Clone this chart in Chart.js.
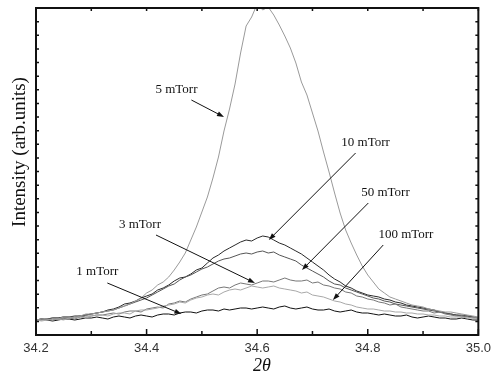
<!DOCTYPE html>
<html>
<head>
<meta charset="utf-8">
<script src="https://cdn.jsdelivr.net/npm/chart.js@4"></script>
<style>
  html, body { margin: 0; padding: 0; background: #fff; }
  #wrap { width: 497px; height: 379px; }
</style>
</head>
<body>
<div id="wrap"><canvas id="xrd"></canvas></div>
<script>
// ====== DATA (arbitrary intensity units) ======
const angles = [34.20, 34.21, 34.22, 34.23, 34.24, 34.25, 34.26, 34.27, 34.28, 34.29,
                34.30, 34.31, 34.32, 34.33, 34.34, 34.35, 34.36, 34.37, 34.38, 34.39,
                34.40, 34.41, 34.42, 34.43, 34.44, 34.45, 34.46, 34.47, 34.48, 34.49,
                34.50, 34.51, 34.52, 34.53, 34.54, 34.55, 34.56, 34.57, 34.58, 34.59,
                34.60, 34.61, 34.62, 34.63, 34.64, 34.65, 34.66, 34.67, 34.68, 34.69,
                34.70, 34.71, 34.72, 34.73, 34.74, 34.75, 34.76, 34.77, 34.78, 34.79,
                34.80, 34.81, 34.82, 34.83, 34.84, 34.85, 34.86, 34.87, 34.88, 34.89,
                34.90, 34.91, 34.92, 34.93, 34.94, 34.95, 34.96, 34.97, 34.98, 34.99, 35.00];

const mTorr1 = [15, 16, 15, 14, 15, 16, 16, 15, 16, 17,
                17, 18, 17, 16, 18, 19, 18, 17, 19, 20,
                19, 18, 20, 21, 21, 20, 22, 23, 23, 22,
                24, 25, 25, 24, 26, 25, 26, 27, 27, 26,
                27, 28, 27, 26, 28, 29, 27, 26, 27, 28,
                26, 25, 25, 26, 24, 23, 24, 25, 23, 22,
                22, 21, 20, 21, 20, 19, 19, 20, 18, 17,
                18, 19, 18, 17, 17, 16, 16, 17, 16, 15, 15];

const mTorr3 = [15, 16, 15, 15, 16, 17, 17, 16, 18, 19,
                19, 20, 20, 21, 22, 21, 23, 24, 24, 23,
                26, 27, 28, 27, 31, 32, 34, 33, 36, 38,
                40, 41, 44, 47, 48, 47, 50, 52, 51, 50,
                52, 54, 54, 53, 55, 57, 55, 54, 54, 55,
                52, 53, 50, 49, 47, 46, 43, 42, 39, 38,
                36, 35, 33, 32, 30, 31, 28, 27, 26, 25,
                24, 24, 22, 23, 21, 20, 19, 19, 18, 17, 17];

const mTorr5 = [15, 16, 16, 15, 16, 18, 18, 17, 19, 21,
                21, 22, 23, 24, 25, 27, 29, 31, 34, 37,
                42, 45, 50, 53, 58, 65, 73, 82, 95, 108,
                123, 138, 157, 178, 204, 226, 251, 282, 309, 318,
                331, 325, 328, 320, 310, 299, 287, 272, 253, 240,
                222, 204, 183, 163, 142, 122, 105, 92, 80, 69,
                60, 53, 46, 42, 38, 36, 34, 32, 30, 29,
                28, 26, 25, 24, 23, 23, 22, 21, 20, 19, 18];

const mTorr10 = [15, 16, 16, 17, 17, 18, 18, 19, 19, 20,
                 21, 22, 23, 25, 26, 28, 31, 32, 34, 37,
                 39, 41, 45, 47, 50, 54, 57, 58, 61, 65,
                 67, 72, 77, 80, 84, 87, 90, 93, 95, 94,
                 97, 99, 98, 95, 92, 90, 87, 84, 81, 77,
                 73, 69, 65, 60, 56, 53, 49, 47, 44, 42,
                 40, 39, 38, 36, 35, 33, 32, 30, 29, 28,
                 27, 26, 25, 23, 22, 21, 20, 19, 19, 18, 17];

const mTorr50 = [15, 15, 16, 17, 17, 18, 18, 18, 19, 20,
                 21, 22, 23, 24, 25, 27, 29, 31, 33, 35,
                 37, 40, 43, 46, 49, 51, 55, 58, 60, 63,
                 66, 68, 71, 74, 76, 77, 79, 81, 82, 81,
                 83, 84, 82, 83, 80, 78, 76, 74, 70, 67,
                 64, 61, 58, 54, 51, 50, 47, 45, 43, 41,
                 39, 37, 36, 34, 33, 31, 30, 29, 28, 27,
                 26, 25, 24, 23, 22, 21, 20, 20, 19, 18, 17];

const mTorr100 = [15, 14, 15, 16, 16, 15, 17, 18, 18, 17,
                  19, 20, 20, 19, 21, 22, 22, 21, 24, 25,
                  25, 26, 27, 29, 30, 31, 33, 32, 35, 37,
                  38, 40, 41, 40, 43, 45, 46, 45, 47, 49,
                  48, 47, 48, 49, 47, 46, 45, 44, 42, 43,
                  40, 39, 38, 36, 34, 33, 31, 30, 28, 27,
                  26, 26, 25, 24, 24, 23, 23, 22, 22, 21,
                  21, 20, 20, 19, 19, 18, 18, 18, 17, 17, 17];

const xTicks = [34.2, 34.4, 34.6, 34.8, 35.0];

// label text, label centre, arrow tail, arrow tip (data coordinates)
const notes = [
  { text: "5 mTorr",   at: [34.454, 245], from: [34.481, 235], to: [34.540, 218] },
  { text: "10 mTorr",  at: [34.796, 192], from: [34.778, 182], to: [34.621, 95] },
  { text: "50 mTorr",  at: [34.832, 142], from: [34.801, 132], to: [34.681, 65] },
  { text: "100 mTorr", at: [34.869, 100], from: [34.828, 90],  to: [34.737, 35] },
  { text: "3 mTorr",   at: [34.388, 110], from: [34.417, 100], to: [34.596, 52] },
  { text: "1 mTorr",   at: [34.311, 63],  from: [34.329, 52],  to: [34.463, 21] }
];

function pts(values) {
  return values.map((v, i) => ({ x: angles[i], y: v }));
}

// ====== FRAME, INWARD TICKS, TITLES, ARROWS ======
const decor = {
  id: "decor",
  afterDraw(chart) {
    const { ctx, chartArea: a, scales: { x, y } } = chart;
    ctx.save();
    ctx.strokeStyle = "#111";
    ctx.fillStyle = "#111";

    // inward ticks on all four sides
    ctx.lineWidth = 1.5;
    ctx.beginPath();
    for (let k = 0; k <= 8; k++) {
      const px = x.getPixelForValue(34.2 + k * 0.1);
      const len = k % 2 === 0 ? 6 : 4;
      ctx.moveTo(px, a.bottom); ctx.lineTo(px, a.bottom - len);
      ctx.moveTo(px, a.top); ctx.lineTo(px, a.top + 3);
    }
    for (let k = 1; k < 24; k++) {
      const py = a.bottom - k * (a.bottom - a.top) / 24;
      ctx.moveTo(a.left, py); ctx.lineTo(a.left + 3, py);
      ctx.moveTo(a.right, py); ctx.lineTo(a.right - 3, py);
    }
    ctx.stroke();

    // frame
    ctx.lineWidth = 2;
    ctx.strokeRect(a.left, a.top, a.right - a.left, a.bottom - a.top);

    // axis titles
    ctx.textAlign = "center";
    ctx.textBaseline = "middle";
    ctx.font = "italic 18px 'Liberation Serif', 'Times New Roman', serif";
    ctx.fillText("2\u03B8", 262, 366);
    ctx.save();
    ctx.translate(20, 152);
    ctx.rotate(-Math.PI / 2);
    ctx.font = "19px 'Liberation Serif', 'Times New Roman', serif";
    ctx.fillText("Intensity (arb.units)", 0, 0);
    ctx.restore();

    // annotations
    ctx.font = "13px 'Liberation Serif', 'Times New Roman', serif";
    ctx.lineWidth = 1;
    notes.forEach(n => {
      ctx.fillText(n.text, x.getPixelForValue(n.at[0]), y.getPixelForValue(n.at[1]));
      const x0 = x.getPixelForValue(n.from[0]), y0 = y.getPixelForValue(n.from[1]);
      const x1 = x.getPixelForValue(n.to[0]), y1 = y.getPixelForValue(n.to[1]);
      const ang = Math.atan2(y1 - y0, x1 - x0);
      ctx.beginPath();
      ctx.moveTo(x0, y0);
      ctx.lineTo(x1 - 5 * Math.cos(ang), y1 - 5 * Math.sin(ang));
      ctx.stroke();
      ctx.beginPath();
      ctx.moveTo(x1, y1);
      ctx.lineTo(x1 - 7 * Math.cos(ang) + 2.5 * Math.sin(ang), y1 - 7 * Math.sin(ang) - 2.5 * Math.cos(ang));
      ctx.lineTo(x1 - 7 * Math.cos(ang) - 2.5 * Math.sin(ang), y1 - 7 * Math.sin(ang) + 2.5 * Math.cos(ang));
      ctx.closePath();
      ctx.fill();
    });
    ctx.restore();
  }
};

const line = (label, values, color) => ({
  label, data: pts(values), borderColor: color, borderWidth: 1,
  pointRadius: 0, fill: false, tension: 0
});

new Chart(document.getElementById("xrd"), {
  type: "line",
  data: {
    datasets: [
      line("5 mTorr", mTorr5, "#9a9a9a"),
      line("100 mTorr", mTorr100, "#a8a8a8"),
      line("3 mTorr", mTorr3, "#777"),
      line("50 mTorr", mTorr50, "#555"),
      line("10 mTorr", mTorr10, "#2a2a2a"),
      line("1 mTorr", mTorr1, "#111")
    ]
  },
  options: {
    responsive: true,
    maintainAspectRatio: false,
    animation: false,
    layout: { padding: { top: 8, right: 14, left: 0, bottom: 0 } },
    plugins: { legend: { display: false }, tooltip: { enabled: false } },
    scales: {
      x: {
        type: "linear", min: 34.2, max: 35.0,
        afterFit: s => { s.height = 44; },
        afterBuildTicks: s => { s.ticks = xTicks.map(v => ({ value: v })); },
        ticks: {
          padding: 6, color: "#333", maxRotation: 0,
          font: { family: "'Liberation Sans', Arial, sans-serif", size: 13 },
          callback: v => v.toFixed(1)
        },
        grid: { display: false, drawTicks: false },
        border: { display: false }
      },
      y: {
        min: 0, max: 327,
        afterFit: s => { s.width = 36; },
        ticks: { display: false },
        grid: { display: false, drawTicks: false },
        border: { display: false }
      }
    }
  },
  plugins: [decor]
});
</script>
</body>
</html>
